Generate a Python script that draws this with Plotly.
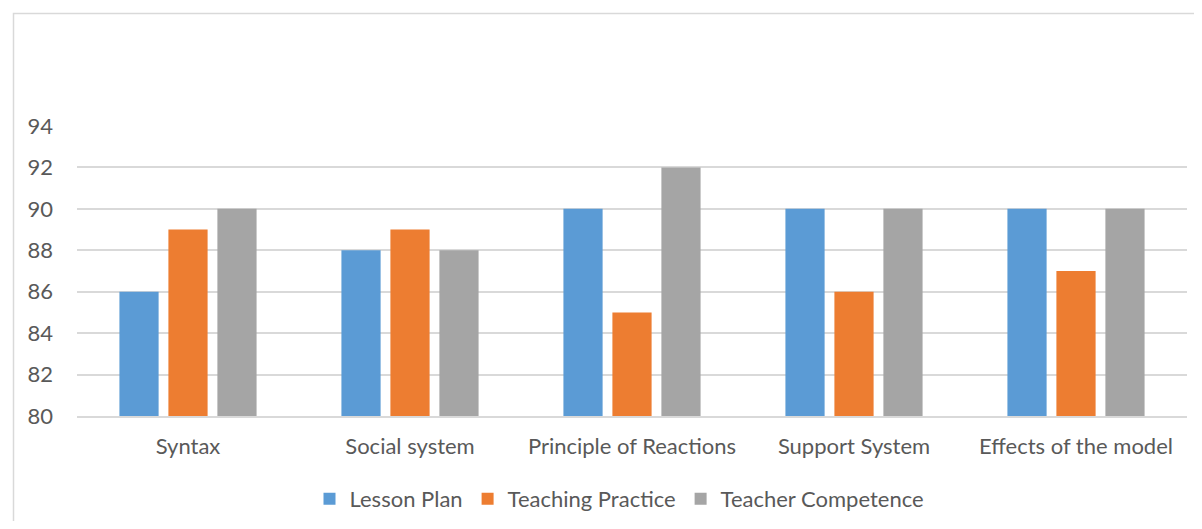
import plotly.graph_objects as go

categories = ["Syntax", "Social system", "Principle of Reactions", "Support System", "Effects of the model"]
lesson_plan = [86, 88, 90, 90, 90]
teaching_practice = [89, 89, 85, 86, 87]
teacher_competence = [90, 88, 92, 90, 90]
y_ticks = [80, 82, 84, 86, 88, 90, 92, 94]

# page body has an 8px margin: figure origin sits at screen (8, 8)
OFF = 8
W, H = 1186, 513
L, R, T, B = 69, 7, 118, 105
pw, ph = W - L - R, H - T - B

font_family = "Lato, 'Open Sans', sans-serif"
text_color = "#595959"
fs = 22

fig = go.Figure()
for name, vals, col in [("Lesson Plan", lesson_plan, "#5B9BD5"),
                        ("Teaching Practice", teaching_practice, "#ED7D31"),
                        ("Teacher Competence", teacher_competence, "#A5A5A5")]:
    fig.add_trace(go.Bar(name=name, x=categories, y=[v - 80 for v in vals], base=80,
                         marker=dict(color=col, line=dict(width=0)),
                         hovertemplate="%{x}: %{customdata}<extra>" + name + "</extra>",
                         customdata=vals))

fig.update_layout(
    width=W, height=H,
    margin=dict(l=L, r=R, t=T, b=B, autoexpand=False),
    paper_bgcolor="white", plot_bgcolor="white",
    barmode="group", bargap=0.338, bargroupgap=0.2,
    font=dict(family=font_family, size=fs, color=text_color),
    showlegend=True,
    legend=dict(orientation="h", x=(619.5 - OFF - L) / pw, xanchor="center",
                y=(408 - (499 - OFF)) / ph, yanchor="middle",
                font=dict(size=fs, color=text_color), itemwidth=30,
                traceorder="normal"),
    xaxis=dict(showgrid=False, showline=True, linecolor="#D9D9D9", linewidth=1.5,
               ticks="", tickfont=dict(size=fs, color=text_color), ticklabelstandoff=10),
    yaxis=dict(range=[80, 94], tickvals=y_ticks, showgrid=True, gridcolor="#D9D9D9",
               gridwidth=1.5, zeroline=False, showline=False, ticks="",
               tickfont=dict(size=fs, color=text_color), ticklabelstandoff=23),
    shapes=[dict(type="rect", xref="paper", yref="paper",
                 x0=(13.5 - OFF - L) / pw, x1=(W + 30 - L) / pw,
                 y0=-(B + 30) / ph, y1=(H - B - (13.5 - OFF)) / ph,
                 line=dict(color="#D9D9D9", width=1.5), fillcolor="rgba(0,0,0,0)", layer="below")],
)
fig.write_html("out.html")
